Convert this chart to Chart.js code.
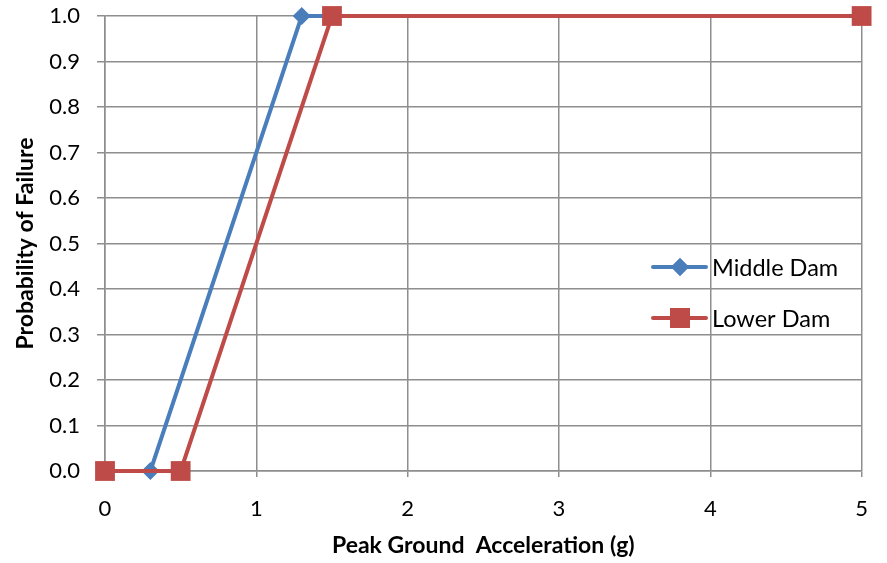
<!DOCTYPE html>
<html>
<head>
<meta charset="utf-8">
<script src="https://cdn.jsdelivr.net/npm/chart.js@4"></script>
<style>
  body { margin: 0; background: #fff; }
  canvas { display: block; }
</style>
</head>
<body>
<canvas id="pof_chart" width="887" height="563"></canvas>
<script>
// peak ground acceleration (g) vs probability of failure
const pgaMiddle = [0, 0.3, 1.3, 5];
const pofMiddle = [0, 0, 1.0, 1.0];
const pgaLower = [0, 0.5, 1.5, 5];
const pofLower = [0, 0, 1.0, 1.0];
const seriesNames = ["Middle Dam", "Lower Dam"];
const seriesColors = ["#4a7ebb", "#be4b48"];

function toPoints(xs, ys) {
    return xs.map((x, i) => ({ x: x, y: ys[i] }));
}

const FONT = "Lato, 'Open Sans', sans-serif";
const GRID = "#8e8e8e";

// legend drawn inside the plot, like the original
const insideLegend = {
    id: "insideLegend",
    afterDraw(chart) {
        let c = chart.ctx;
        let rows = [
            { y: 267, style: "rectRot", radius: 9 },
            { y: 318, style: "rect", radius: 14 }
        ];
        c.save();
        rows.forEach((r, i) => {
            c.strokeStyle = seriesColors[i];
            c.lineWidth = 4;
            c.lineCap = "round";
            c.beginPath();
            c.moveTo(653, r.y);
            c.lineTo(706, r.y);
            c.stroke();
            c.fillStyle = seriesColors[i];
            Chart.helpers.drawPoint(c, { pointStyle: r.style, radius: r.radius, borderWidth: 0 }, 680, r.y);
            c.fill();
            c.fillStyle = "#000";
            c.font = "23.5px " + FONT;
            c.textBaseline = "middle";
            c.textAlign = "left";
            c.fillText(seriesNames[i], 712, r.y + 1);
        });
        c.restore();
    }
};

let can = document.getElementById("pof_chart");
let c = can.getContext("2d");
let chart = new Chart(c, {
    type: "line",
    data: {
        datasets: [{
            label: seriesNames[0],
            data: toPoints(pgaMiddle, pofMiddle),
            borderColor: seriesColors[0],
            backgroundColor: seriesColors[0],
            borderWidth: 4,
            pointStyle: "rectRot",
            pointRadius: 9,
            pointBorderWidth: 0,
            order: 2,
            clip: false
        },
        {
            label: seriesNames[1],
            data: toPoints(pgaLower, pofLower),
            borderColor: seriesColors[1],
            backgroundColor: seriesColors[1],
            borderWidth: 4,
            pointStyle: "rect",
            pointRadius: 14,
            pointBorderWidth: 0,
            order: 1,
            clip: false
        }]
    },
    options: {
        responsive: false,
        animation: false,
        layout: { padding: { top: 16, right: 19, left: 0, bottom: 0 } },
        plugins: {
            legend: { display: false },
            tooltip: { enabled: false }
        },
        scales: {
            x: {
                type: "linear",
                min: 0,
                max: 5,
                ticks: {
                    stepSize: 1,
                    padding: 19,
                    color: "#000",
                    font: { family: FONT, size: 22 }
                },
                grid: { color: GRID, lineWidth: 1.5, tickLength: 6 },
                border: { color: GRID, width: 1.5 },
                title: {
                    display: true,
                    text: "Peak Ground  Acceleration (g)",
                    color: "#000",
                    font: { family: FONT, size: 23, weight: "bold" },
                    padding: { top: 10 }
                },
                afterFit(scale) { scale.height = 92; }
            },
            y: {
                min: 0,
                max: 1,
                ticks: {
                    stepSize: 0.1,
                    padding: 17,
                    color: "#000",
                    font: { family: FONT, size: 22 },
                    callback: v => v.toFixed(1)
                },
                grid: { color: GRID, lineWidth: 1.5, tickLength: 8 },
                border: { color: GRID, width: 1.5 },
                title: {
                    display: true,
                    text: "Probability of Failure",
                    color: "#000",
                    font: { family: FONT, size: 23, weight: "bold" },
                    padding: { top: 12, bottom: 0 }
                },
                afterFit(scale) {
                    scale.width = 105;
                    // keep the tick padding from pushing the plot down
                    scale.paddingTop = 0;
                    scale.paddingBottom = 0;
                }
            }
        }
    },
    plugins: [insideLegend]
});
</script>
</body>
</html>
